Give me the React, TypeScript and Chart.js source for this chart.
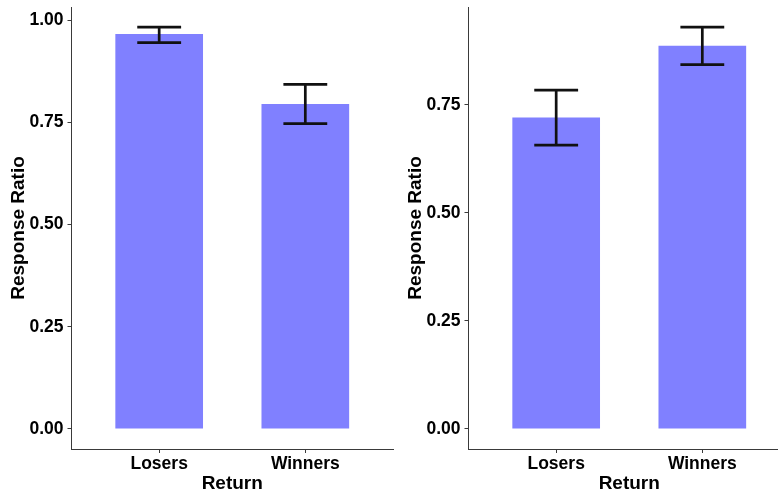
import React, { useEffect, useRef } from 'react';
import { Chart, registerables } from 'chart.js';

Chart.register(...registerables);

// Response ratio by return group, two panels
const categories = ['Losers', 'Winners'];

const leftMeans = [0.966, 0.795];
const leftLower = [0.945, 0.747];
const leftUpper = [0.983, 0.843];

const rightMeans = [0.721, 0.887];
const rightLower = [0.657, 0.843];
const rightUpper = [0.784, 0.930];

const yTickValues = [0, 0.25, 0.5, 0.75, 1.0];

const xTitle = 'Return';
const yTitle = 'Response Ratio';

const FONT = '"Liberation Sans", Arial, sans-serif';
const BAR_COLOR = 'rgb(128,128,255)';
const AXIS_COLOR = '#3a3a3a';
const CAP_HALF = 0.15; // half width of error-bar caps, in category units

const errorBarPlugin = {
  id: 'errorBars',
  afterDatasetsDraw(chart: any, _args: any, opts: any) {
    const { ctx } = chart;
    const x = chart.scales.x;
    const y = chart.scales.y;
    const lower: number[] = opts.lower || [];
    const upper: number[] = opts.upper || [];
    ctx.save();
    ctx.strokeStyle = '#111111';
    ctx.lineWidth = 2.7;
    ctx.lineCap = 'butt';
    lower.forEach((lo, i) => {
      const xv = i + 1;
      const xc = x.getPixelForValue(xv);
      const xl = x.getPixelForValue(xv - CAP_HALF);
      const xr = x.getPixelForValue(xv + CAP_HALF);
      const yl = y.getPixelForValue(lo);
      const yu = y.getPixelForValue(upper[i]);
      ctx.beginPath();
      ctx.moveTo(xc, yl);
      ctx.lineTo(xc, yu);
      ctx.moveTo(xl, yl);
      ctx.lineTo(xr, yl);
      ctx.moveTo(xl, yu);
      ctx.lineTo(xr, yu);
      ctx.stroke();
    });
    ctx.restore();
  },
};

function Panel({ means, lower, upper }: { means: number[]; lower: number[]; upper: number[] }) {
  const ref = useRef<HTMLCanvasElement | null>(null);

  useEffect(() => {
    if (!ref.current) return;
    const top = Math.max(...upper);
    const yMin = -0.05 * top;
    const yMax = 1.05 * top;

    const chart = new Chart(ref.current, {
      type: 'bar',
      data: {
        datasets: [
          {
            data: means.map((m, i) => ({ x: i + 1, y: m })),
            backgroundColor: BAR_COLOR,
            borderWidth: 0,
            barPercentage: 0.6,
            categoryPercentage: 1,
          },
        ],
      },
      plugins: [errorBarPlugin],
      options: {
        responsive: false,
        animation: false,
        devicePixelRatio: 1,
        layout: { padding: { top: 7, right: 4, left: 0, bottom: 0 } },
        plugins: {
          legend: { display: false },
          tooltip: { enabled: false },
          errorBars: { lower, upper },
        } as any,
        scales: {
          x: {
            type: 'linear',
            min: 0.4,
            max: 2.6,
            offset: false,
            afterBuildTicks: (scale: any) => {
              scale.ticks = categories.map((_, i) => ({ value: i + 1 }));
            },
            afterFit: (scale: any) => {
              scale.height = 44;
              scale.paddingLeft = 0;
              scale.paddingRight = 0;
            },
            grid: {
              display: true,
              offset: false,
              drawOnChartArea: false,
              drawTicks: true,
              tickLength: 4,
              color: AXIS_COLOR,
              lineWidth: 1,
            },
            border: { display: true, color: AXIS_COLOR, width: 1 },
            ticks: {
              color: '#000',
              padding: 1,
              maxRotation: 0,
              autoSkip: false,
              font: { family: FONT, size: 17.5, weight: 'bold' },
              callback: (v: any) => categories[Math.round(Number(v)) - 1] ?? '',
            },
            title: {
              display: true,
              text: xTitle,
              color: '#000',
              padding: { top: 0, bottom: -2 },
              font: { family: FONT, size: 19, weight: 'bold' },
            },
          },
          y: {
            type: 'linear',
            min: yMin,
            max: yMax,
            afterBuildTicks: (scale: any) => {
              scale.ticks = yTickValues.filter((v) => v >= yMin && v <= yMax).map((v) => ({ value: v }));
            },
            afterFit: (scale: any) => {
              scale.width = 71.5;
              scale.paddingTop = 0;
              scale.paddingBottom = 0;
            },
            grid: {
              display: true,
              drawOnChartArea: false,
              drawTicks: true,
              tickLength: 4,
              color: AXIS_COLOR,
              lineWidth: 1,
            },
            border: { display: true, color: AXIS_COLOR, width: 1 },
            ticks: {
              color: '#000',
              padding: 4,
              font: { family: FONT, size: 17.5, weight: 'bold' },
              callback: (v: any) => Number(v).toFixed(2),
            },
            title: {
              display: true,
              text: yTitle,
              color: '#000',
              padding: { top: 7, bottom: 0 },
              font: { family: FONT, size: 19, weight: 'bold' },
            },
          },
        },
      } as any,
    });
    return () => chart.destroy();
  }, [means, lower, upper]);

  return <canvas ref={ref} width={397} height={493} style={{ display: 'block' }} />;
}

export default function App() {
  return (
    <div
      style={{
        position: 'absolute',
        left: 0,
        top: 0,
        width: 778,
        height: 493,
        overflow: 'hidden',
        background: '#fff',
      }}
    >
      <div style={{ position: 'absolute', left: 0, top: 0 }}>
        <Panel means={leftMeans} lower={leftLower} upper={leftUpper} />
      </div>
      <div style={{ position: 'absolute', left: 397, top: 0 }}>
        <Panel means={rightMeans} lower={rightLower} upper={rightUpper} />
      </div>
    </div>
  );
}
